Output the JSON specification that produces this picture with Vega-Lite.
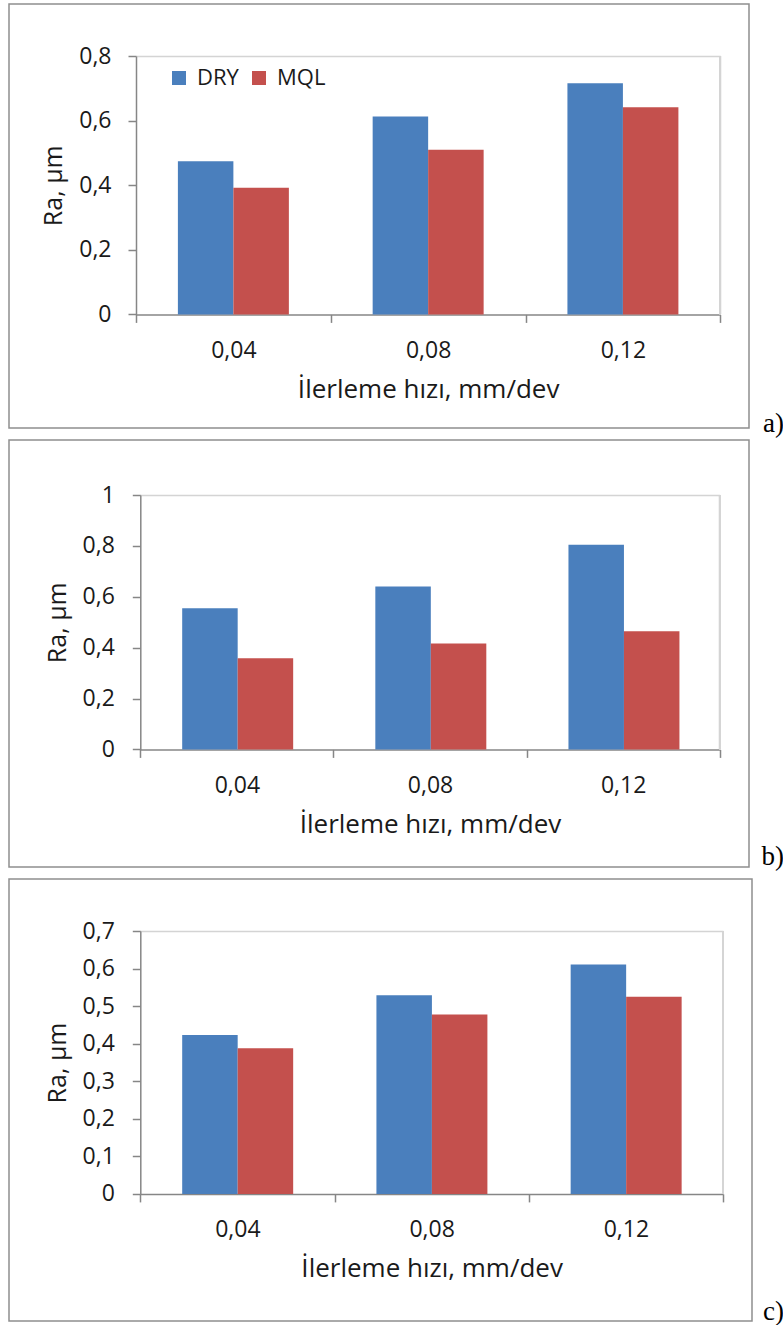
{
  "$schema": "https://vega.github.io/schema/vega-lite/v6.json",
  "background": "white",
  "padding": {"left": 8, "top": 3, "right": 0, "bottom": 0},
  "spacing": 12,
  "bounds": "flush",
  "config": {
    "view": {"stroke": "#8f8f8f", "strokeWidth": 1.5},
    "title": {"font": "Liberation Serif", "fontSize": 27, "fontWeight": "normal", "color": "#000000", "anchor": "end", "orient": "bottom", "frame": "group", "baseline": "top"}
  },
  "datasets": {
    "a": [
      {"feed": "0,04", "cond": "DRY", "ra": 0.474},
      {"feed": "0,04", "cond": "MQL", "ra": 0.392},
      {"feed": "0,08", "cond": "DRY", "ra": 0.613},
      {"feed": "0,08", "cond": "MQL", "ra": 0.510},
      {"feed": "0,12", "cond": "DRY", "ra": 0.716},
      {"feed": "0,12", "cond": "MQL", "ra": 0.641}
    ],
    "b": [
      {"feed": "0,04", "cond": "DRY", "ra": 0.555},
      {"feed": "0,04", "cond": "MQL", "ra": 0.358},
      {"feed": "0,08", "cond": "DRY", "ra": 0.640},
      {"feed": "0,08", "cond": "MQL", "ra": 0.416},
      {"feed": "0,12", "cond": "DRY", "ra": 0.804},
      {"feed": "0,12", "cond": "MQL", "ra": 0.464}
    ],
    "c": [
      {"feed": "0,04", "cond": "DRY", "ra": 0.423},
      {"feed": "0,04", "cond": "MQL", "ra": 0.388},
      {"feed": "0,08", "cond": "DRY", "ra": 0.529},
      {"feed": "0,08", "cond": "MQL", "ra": 0.478},
      {"feed": "0,12", "cond": "DRY", "ra": 0.611},
      {"feed": "0,12", "cond": "MQL", "ra": 0.525}
    ]
  },
  "vconcat": [
    {
      "width": 740,
      "height": 424,
      "data": {"name": "a"},
      "title": {"text": "a)", "dx": 35, "offset": -17},
      "layer": [
        {
          "mark": {"type": "bar"},
          "encoding": {
            "x": {"field": "feed", "type": "nominal", "sort": null,
              "scale": {"range": [127, 711.3], "paddingInner": 0, "paddingOuter": 0},
              "axis": {"orient": "bottom", "offset": -113.6, "tickBand": "extent", "ticks": true, "grid": false, "domainColor": "#868686", "domainWidth": 1.5, "tickColor": "#868686", "tickWidth": 1.5, "tickSize": 8, "labelAngle": 0, "labelFont": "Open Sans", "labelFontSize": 23, "labelColor": "#1a1a1a", "labelPadding": 17, "title": "İlerleme hızı, mm/dev", "titleFont": "Open Sans", "titleFontSize": 26, "titleFontWeight": "normal", "titleColor": "#1a1a1a", "titlePadding": 14}},
            "xOffset": {"field": "cond", "type": "nominal", "sort": ["DRY", "MQL"], "scale": {"paddingInner": 0, "paddingOuter": 0.755}},
            "y": {"field": "ra", "type": "quantitative",
              "scale": {"domain": [0, 0.8], "range": [310.4, 52], "nice": false},
              "axis": {"orient": "left", "offset": -127, "values": [0, 0.2, 0.4, 0.6, 0.8], "grid": true, "gridColor": "#d4d4d4", "gridWidth": 1.5, "gridOpacity": {"condition": {"test": "datum.value >= 0.79", "value": 1}, "value": 0}, "domainColor": "#868686", "domainWidth": 1.5, "tickColor": "#868686", "tickWidth": 1.5, "tickSize": 8, "labelExpr": "replace(format(datum.value, '~g'), '.', ',')", "labelFont": "Open Sans", "labelFontSize": 23, "labelColor": "#1a1a1a", "labelPadding": 17, "title": "Ra, µm", "titleFont": "Open Sans", "titleFontSize": 25, "titleFontWeight": "normal", "titleColor": "#1a1a1a", "titlePadding": 12}},
            "color": {"field": "cond", "type": "nominal",
              "scale": {"domain": ["DRY", "MQL"], "range": ["#4a7fbd", "#c4504d"]},
              "legend": {"orient": "none", "legendX": 159, "legendY": 63, "direction": "horizontal", "title": null, "padding": 0, "symbolType": "square", "symbolSize": 196, "symbolStrokeWidth": 0, "symbolOpacity": 1, "labelFont": "Open Sans", "labelFontSize": 22, "labelColor": "#1a1a1a", "labelOffset": 7, "columnPadding": 9}}
          }
        },
        {
          "mark": {"type": "rule", "color": "#d4d4d4", "strokeWidth": 1.5},
          "encoding": {
            "x": {"datum": "0,12", "bandPosition": 1},
            "y": {"datum": 0},
            "y2": {"datum": 0.8}
          }
        }
      ]
    },
    {
      "width": 740,
      "height": 427,
      "data": {"name": "b"},
      "title": {"text": "b)", "dx": 35, "offset": -23},
      "layer": [
        {
          "mark": {"type": "bar"},
          "encoding": {
            "x": {"field": "feed", "type": "nominal", "sort": null,
              "scale": {"range": [131.3, 710.7], "paddingInner": 0, "paddingOuter": 0},
              "axis": {"orient": "bottom", "offset": -117.6, "tickBand": "extent", "ticks": true, "grid": false, "domainColor": "#868686", "domainWidth": 1.5, "tickColor": "#868686", "tickWidth": 1.5, "tickSize": 8, "labelAngle": 0, "labelFont": "Open Sans", "labelFontSize": 23, "labelColor": "#1a1a1a", "labelPadding": 17, "title": "İlerleme hızı, mm/dev", "titleFont": "Open Sans", "titleFontSize": 26, "titleFontWeight": "normal", "titleColor": "#1a1a1a", "titlePadding": 14}},
            "xOffset": {"field": "cond", "type": "nominal", "sort": ["DRY", "MQL"], "scale": {"paddingInner": 0, "paddingOuter": 0.755}},
            "y": {"field": "ra", "type": "quantitative",
              "scale": {"domain": [0, 1], "range": [309.4, 55], "nice": false},
              "axis": {"orient": "left", "offset": -131.3, "values": [0, 0.2, 0.4, 0.6, 0.8, 1], "grid": true, "gridColor": "#d4d4d4", "gridWidth": 1.5, "gridOpacity": {"condition": {"test": "datum.value >= 0.99", "value": 1}, "value": 0}, "domainColor": "#868686", "domainWidth": 1.5, "tickColor": "#868686", "tickWidth": 1.5, "tickSize": 8, "labelExpr": "replace(format(datum.value, '~g'), '.', ',')", "labelFont": "Open Sans", "labelFontSize": 23, "labelColor": "#1a1a1a", "labelPadding": 18, "title": "Ra, µm", "titleFont": "Open Sans", "titleFontSize": 25, "titleFontWeight": "normal", "titleColor": "#1a1a1a", "titlePadding": 12}},
            "color": {"field": "cond", "type": "nominal",
              "scale": {"domain": ["DRY", "MQL"], "range": ["#4a7fbd", "#c4504d"]},
              "legend": {"orient": "none", "legendX": 161, "legendY": 69, "direction": "horizontal", "title": null, "padding": 0, "symbolType": "square", "symbolSize": 196, "symbolStrokeWidth": 0, "symbolOpacity": 1, "labelFont": "Open Sans", "labelFontSize": 22, "labelColor": "#1a1a1a", "labelOffset": 7, "columnPadding": 9}}
          }
        },
        {
          "mark": {"type": "rule", "color": "#d4d4d4", "strokeWidth": 1.5},
          "encoding": {
            "x": {"datum": "0,12", "bandPosition": 1},
            "y": {"datum": 0},
            "y2": {"datum": 1}
          }
        }
      ]
    },
    {
      "width": 743,
      "height": 442,
      "data": {"name": "c"},
      "title": {"text": "c)", "dx": 32, "offset": -22},
      "layer": [
        {
          "mark": {"type": "bar"},
          "encoding": {
            "x": {"field": "feed", "type": "nominal", "sort": null,
              "scale": {"range": [131.3, 714], "paddingInner": 0, "paddingOuter": 0},
              "axis": {"orient": "bottom", "offset": -127.1, "tickBand": "extent", "ticks": true, "grid": false, "domainColor": "#868686", "domainWidth": 1.5, "tickColor": "#868686", "tickWidth": 1.5, "tickSize": 8, "labelAngle": 0, "labelFont": "Open Sans", "labelFontSize": 23, "labelColor": "#1a1a1a", "labelPadding": 17, "title": "İlerleme hızı, mm/dev", "titleFont": "Open Sans", "titleFontSize": 26, "titleFontWeight": "normal", "titleColor": "#1a1a1a", "titlePadding": 14}},
            "xOffset": {"field": "cond", "type": "nominal", "sort": ["DRY", "MQL"], "scale": {"paddingInner": 0, "paddingOuter": 0.745}},
            "y": {"field": "ra", "type": "quantitative",
              "scale": {"domain": [0, 0.7], "range": [314.9, 52], "nice": false},
              "axis": {"orient": "left", "offset": -131.3, "values": [0, 0.1, 0.2, 0.3, 0.4, 0.5, 0.6, 0.7], "grid": true, "gridColor": "#d4d4d4", "gridWidth": 1.5, "gridOpacity": {"condition": {"test": "datum.value >= 0.69", "value": 1}, "value": 0}, "domainColor": "#868686", "domainWidth": 1.5, "tickColor": "#868686", "tickWidth": 1.5, "tickSize": 8, "labelExpr": "replace(format(datum.value, '~g'), '.', ',')", "labelFont": "Open Sans", "labelFontSize": 23, "labelColor": "#1a1a1a", "labelPadding": 18, "title": "Ra, µm", "titleFont": "Open Sans", "titleFontSize": 25, "titleFontWeight": "normal", "titleColor": "#1a1a1a", "titlePadding": 12}},
            "color": {"field": "cond", "type": "nominal",
              "scale": {"domain": ["DRY", "MQL"], "range": ["#4a7fbd", "#c4504d"]},
              "legend": {"orient": "none", "legendX": 169, "legendY": 68, "direction": "horizontal", "title": null, "padding": 0, "symbolType": "square", "symbolSize": 196, "symbolStrokeWidth": 0, "symbolOpacity": 1, "labelFont": "Open Sans", "labelFontSize": 22, "labelColor": "#1a1a1a", "labelOffset": 7, "columnPadding": 9}}
          }
        },
        {
          "mark": {"type": "rule", "color": "#d4d4d4", "strokeWidth": 1.5},
          "encoding": {
            "x": {"datum": "0,12", "bandPosition": 1},
            "y": {"datum": 0},
            "y2": {"datum": 0.7}
          }
        }
      ]
    }
  ]
}
